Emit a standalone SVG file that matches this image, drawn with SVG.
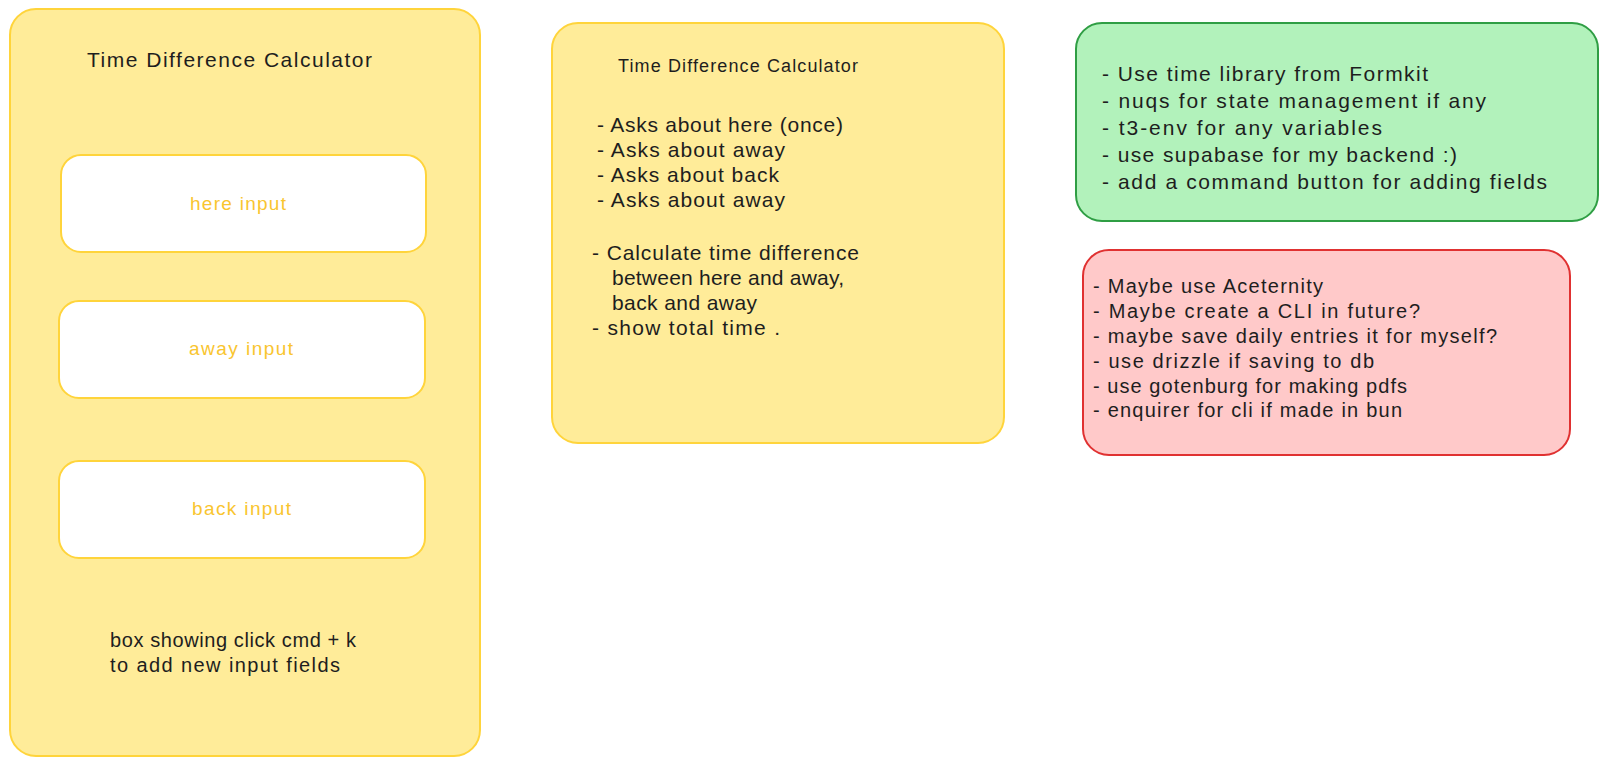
<svg xmlns="http://www.w3.org/2000/svg" width="1607" height="766" viewBox="0 0 1607 766">
<style>
.t{font-family:"Liberation Sans",Arial,sans-serif;fill:#1e1e1e;font-size:21px}
.s18{font-size:18px}
.s20{font-size:20px}
.y{fill:#f9c52f;font-size:19px}
.boxY{fill:#ffec99;stroke:#ffd43b;stroke-width:2}
.boxW{fill:#ffffff;stroke:#ffd43b;stroke-width:2}
.boxG{fill:#b2f2bb;stroke:#2f9e44;stroke-width:2}
.boxR{fill:#ffc9c9;stroke:#e03131;stroke-width:2}
</style>
<rect width="1607" height="766" fill="#ffffff"/>
<g id="left-panel">
<rect class="boxY" x="10" y="9" width="470" height="747" rx="26"/>
<text class="t" x="87" y="67" textLength="285">Time Difference Calculator</text>
<text class="t s20" x="110" y="647" textLength="246">box showing click cmd + k</text>
<text class="t s20" x="110" y="672" textLength="230">to add new input fields</text>
</g>
<g id="here-input">
<rect class="boxW" x="61" y="155" width="365" height="97" rx="20"/>
<text class="t y" x="190" y="210" textLength="96">here input</text>
</g>
<g id="away-input">
<rect class="boxW" x="59" y="301" width="366" height="97" rx="20"/>
<text class="t y" x="189" y="355" textLength="104">away input</text>
</g>
<g id="back-input">
<rect class="boxW" x="59" y="461" width="366" height="97" rx="20"/>
<text class="t y" x="192" y="515" textLength="99">back input</text>
</g>
<g id="middle-panel">
<rect class="boxY" x="552" y="23" width="452" height="420" rx="26"/>
<text class="t s18" x="618" y="72" textLength="240">Time Difference Calculator</text>
<text class="t" x="597" y="132" textLength="246">- Asks about here (once)</text>
<text class="t" x="597" y="157" textLength="188">- Asks about away</text>
<text class="t" x="597" y="182" textLength="182">- Asks about back</text>
<text class="t" x="597" y="207" textLength="188">- Asks about away</text>
<text class="t" x="592" y="260" textLength="267">- Calculate time difference</text>
<text class="t" x="612" y="285" textLength="232">between here and away,</text>
<text class="t" x="612" y="310" textLength="145">back and away</text>
<text class="t" x="592" y="335" textLength="188">- show total time .</text>
</g>
<g id="green-panel">
<rect class="boxG" x="1076" y="23" width="522" height="198" rx="26"/>
<text class="t" x="1102" y="81" textLength="326">- Use time library from Formkit</text>
<text class="t" x="1102" y="108" textLength="384">- nuqs for state management if any</text>
<text class="t" x="1102" y="135" textLength="280">- t3-env for any variables</text>
<text class="t" x="1102" y="162" textLength="355">- use supabase for my backend :)</text>
<text class="t" x="1102" y="189" textLength="445">- add a command button for adding fields</text>
</g>
<g id="red-panel">
<rect class="boxR" x="1083" y="250" width="487" height="205" rx="26"/>
<text class="t s20" x="1093" y="293" textLength="230">- Maybe use Aceternity</text>
<text class="t s20" x="1093" y="318" textLength="327">- Maybe create a CLI in future?</text>
<text class="t s20" x="1093" y="343" textLength="404">- maybe save daily entries it for myself?</text>
<text class="t s20" x="1093" y="368" textLength="281">- use drizzle if saving to db</text>
<text class="t s20" x="1093" y="393" textLength="314">- use gotenburg for making pdfs</text>
<text class="t s20" x="1093" y="417" textLength="309">- enquirer for cli if made in bun</text>
</g>
<g id="connectors"/>
</svg>
